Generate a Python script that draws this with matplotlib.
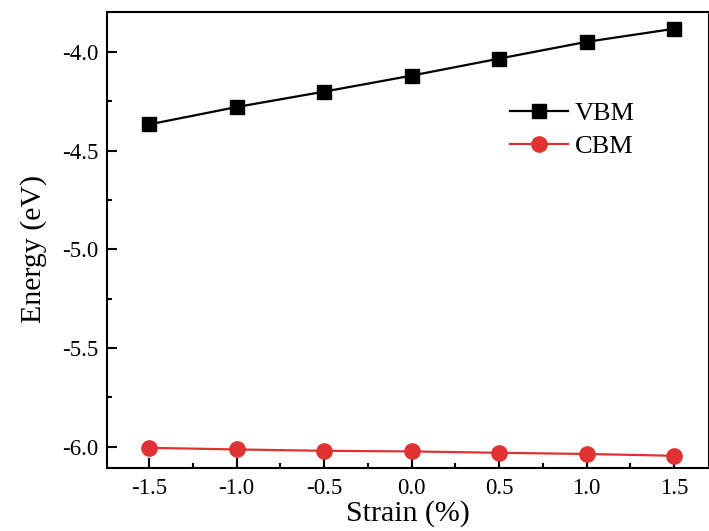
import matplotlib
matplotlib.use('Agg')
import matplotlib.pyplot as plt
from matplotlib.ticker import MultipleLocator

# data
strain = [-1.5, -1.0, -0.5, 0.0, 0.5, 1.0, 1.5]
vbm = [-4.368, -4.280, -4.202, -4.121, -4.035, -3.950, -3.884]
cbm = [-6.005, -6.013, -6.020, -6.023, -6.030, -6.036, -6.045]

plt.rcParams['font.family'] = ['Liberation Serif', 'DejaVu Serif']

fig = plt.figure(figsize=(7.09, 5.31), dpi=100)
ax = fig.add_axes([0.151, 0.119, 0.849, 0.858])

ax.plot(strain, vbm, '-s', color='black', lw=1.6, ms=10, label='VBM')
ax.plot(strain, cbm, '-o', color='#e03232', lw=1.6, ms=11, label='CBM')

ax.set_xlim(-1.74, 1.7)
ax.set_ylim(-6.106, -3.80)
ax.xaxis.set_minor_locator(MultipleLocator(0.25))
ax.yaxis.set_minor_locator(MultipleLocator(0.25))
ax.tick_params(which='major', direction='in', length=7, width=1.5, labelsize=16.5)
ax.tick_params(which='minor', direction='in', length=3.6, width=1.5)
ax.tick_params(axis='x', pad=7)
ax.tick_params(axis='y', pad=6)
ax.set_yticks([-6.0, -5.5, -5.0, -4.5, -4.0])
ax.set_yticklabels(['-6.0', '-5.5', '-5.0', '-4.5', '-4.0'])
ax.set_xticks(strain)
ax.set_xticklabels(['-1.5', '-1.0', '-0.5', '0.0', '0.5', '1.0', '1.5'])
for s in ax.spines.values():
    s.set_linewidth(1.5)

ax.set_xlabel('Strain (%)', fontsize=21.5, labelpad=1)
ax.set_ylabel('Energy (eV)', fontsize=21.5)
ax.yaxis.set_label_coords(-0.10, 0.48)

ax.legend(loc='upper left', bbox_to_anchor=(0.669, 0.804), frameon=False,
          borderpad=0, borderaxespad=0,
          fontsize=19, handlelength=2.2, handletextpad=0.27, labelspacing=0.38)

plt.savefig('out.png', dpi=100)
